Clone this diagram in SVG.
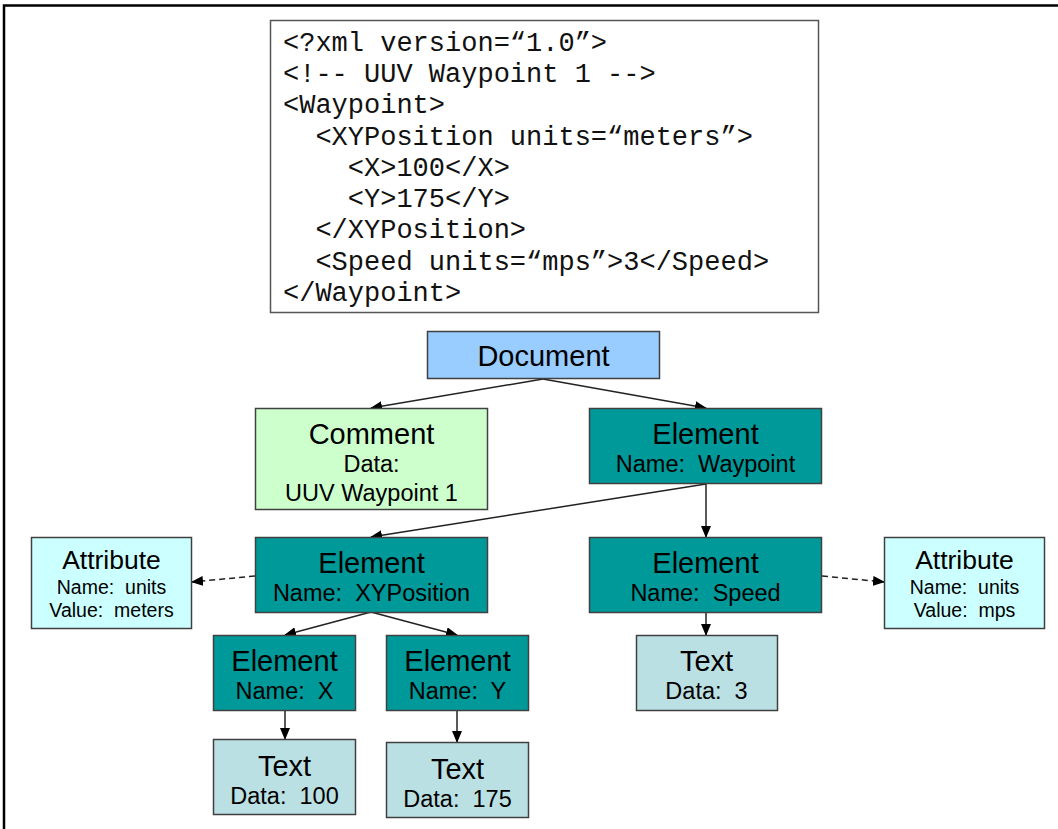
<svg xmlns="http://www.w3.org/2000/svg" width="1058" height="829" viewBox="0 0 1058 829">
<defs>
<style>
.code{font-family:"Liberation Mono","Courier New",monospace;font-size:27px;fill:#111}
.t{font-family:"Liberation Sans",Arial,sans-serif;text-anchor:middle;fill:#000}
.big{font-size:29px}
.mid{font-size:23.5px}
.sm{font-size:19.5px}
.att{font-size:26.5px}
.box{stroke:#404040;stroke-width:1.5}
.doc{fill:#99CCFF}
.com{fill:#CCFFCC}
.el{fill:#009999}
.at{fill:#CCFFFF}
.tx{fill:#BBE0E3}
.c{stroke:#222;stroke-width:1.5;fill:none;marker-end:url(#ah)}
.d{stroke-dasharray:6,4}
</style>
<marker id="ah" markerWidth="12" markerHeight="10" refX="11" refY="5" orient="auto" markerUnits="userSpaceOnUse">
<path d="M0,0 L12,5 L0,10 Z" fill="#000"/>
</marker>
</defs>
<rect width="1058" height="829" fill="#fff"/>
<path d="M4,829 V5.5 H1058" fill="none" stroke="#000" stroke-width="2.5"/>
<g id="code">
<rect x="270.5" y="20.5" width="548" height="292" fill="#fff" stroke="#555" stroke-width="1.5"/>
<text class="code" xml:space="preserve"><tspan x="283" y="51">&lt;?xml version=“1.0”&gt;</tspan><tspan x="283" y="82">&lt;!-- UUV Waypoint 1 --&gt;</tspan><tspan x="283" y="113">&lt;Waypoint&gt;</tspan><tspan x="283" y="145">  &lt;XYPosition units=“meters”&gt;</tspan><tspan x="283" y="176">    &lt;X&gt;100&lt;/X&gt;</tspan><tspan x="283" y="207">    &lt;Y&gt;175&lt;/Y&gt;</tspan><tspan x="283" y="238">  &lt;/XYPosition&gt;</tspan><tspan x="283" y="270">  &lt;Speed units=“mps”&gt;3&lt;/Speed&gt;</tspan><tspan x="283" y="301">&lt;/Waypoint&gt;</tspan></text>
</g>
<g id="connectors">
<line class="c" x1="543" y1="379" x2="371" y2="408"/>
<line class="c" x1="543" y1="379" x2="706" y2="408"/>
<line class="c" x1="706" y1="484" x2="371" y2="537"/>
<line class="c" x1="706" y1="484" x2="706" y2="537"/>
<line class="c" x1="371" y1="612" x2="285" y2="635"/>
<line class="c" x1="371" y1="612" x2="457" y2="635"/>
<line class="c d" x1="255" y1="576" x2="192" y2="582"/>
<line class="c d" x1="822" y1="576" x2="884" y2="582"/>
<line class="c" x1="706" y1="612" x2="706" y2="635"/>
<line class="c" x1="285" y1="710" x2="285" y2="739"/>
<line class="c" x1="457" y1="710" x2="457" y2="742"/>
</g>
<g id="document">
<rect class="box doc" x="427.5" y="331.5" width="232" height="47"/>
<text class="t big" x="543.5" y="366">Document</text>
</g>
<g id="comment">
<rect class="box com" x="255.5" y="408.5" width="232" height="101"/>
<text class="t big" x="371.5" y="444">Comment</text>
<text class="t mid" x="371.5" y="472">Data:</text>
<text class="t mid" x="371.5" y="501">UUV Waypoint 1</text>
</g>
<g id="el-waypoint">
<rect class="box el" x="589.5" y="408.5" width="232" height="75"/>
<text class="t big" x="705.5" y="444">Element</text>
<text class="t mid" x="705.5" y="472" xml:space="preserve">Name:  Waypoint</text>
</g>
<g id="el-xyposition">
<rect class="box el" x="255.5" y="537.5" width="232" height="75"/>
<text class="t big" x="371.5" y="573">Element</text>
<text class="t mid" x="371.5" y="601" xml:space="preserve">Name:  XYPosition</text>
</g>
<g id="el-speed">
<rect class="box el" x="589.5" y="537.5" width="232" height="75"/>
<text class="t big" x="705.5" y="573">Element</text>
<text class="t mid" x="705.5" y="601" xml:space="preserve">Name:  Speed</text>
</g>
<g id="attr-meters">
<rect class="box at" x="31.5" y="537.5" width="160" height="91"/>
<text class="t att" x="111.5" y="569">Attribute</text>
<text class="t sm" x="111.5" y="594" xml:space="preserve">Name:  units</text>
<text class="t sm" x="111.5" y="617" xml:space="preserve">Value:  meters</text>
</g>
<g id="attr-mps">
<rect class="box at" x="884.5" y="537.5" width="160" height="91"/>
<text class="t att" x="964.5" y="569">Attribute</text>
<text class="t sm" x="964.5" y="594" xml:space="preserve">Name:  units</text>
<text class="t sm" x="964.5" y="617" xml:space="preserve">Value:  mps</text>
</g>
<g id="el-x">
<rect class="box el" x="213.5" y="635.5" width="142" height="75"/>
<text class="t big" x="284.5" y="671">Element</text>
<text class="t mid" x="284.5" y="699" xml:space="preserve">Name:  X</text>
</g>
<g id="el-y">
<rect class="box el" x="386.5" y="635.5" width="142" height="75"/>
<text class="t big" x="457.5" y="671">Element</text>
<text class="t mid" x="457.5" y="699" xml:space="preserve">Name:  Y</text>
</g>
<g id="text-3">
<rect class="box tx" x="636.5" y="635.5" width="141" height="75"/>
<text class="t big" x="706.5" y="671">Text</text>
<text class="t mid" x="706.5" y="699" xml:space="preserve">Data:  3</text>
</g>
<g id="text-100">
<rect class="box tx" x="213.5" y="739.5" width="142" height="75"/>
<text class="t big" x="284.5" y="776">Text</text>
<text class="t mid" x="284.5" y="804" xml:space="preserve">Data:  100</text>
</g>
<g id="text-175">
<rect class="box tx" x="386.5" y="742.5" width="142" height="75"/>
<text class="t big" x="457.5" y="779">Text</text>
<text class="t mid" x="457.5" y="807" xml:space="preserve">Data:  175</text>
</g>
</svg>
